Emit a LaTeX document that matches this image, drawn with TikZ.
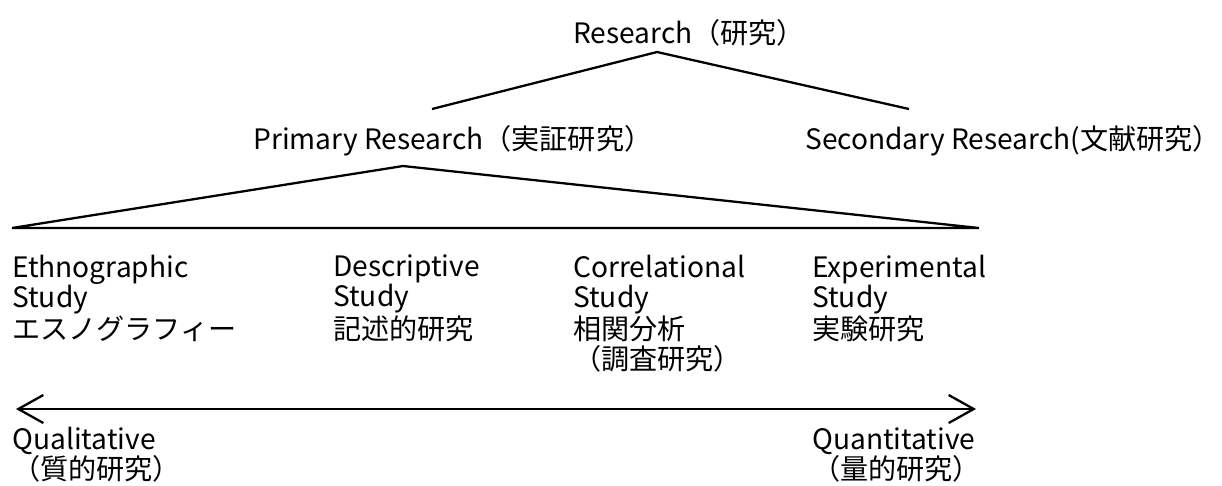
\documentclass[tikz,border=0pt]{standalone}
\usepackage{fontspec}
\setmainfont{Noto Sans CJK JP}
\usepackage{tikz}
\usetikzlibrary{arrows.meta}

\begin{document}
\begin{tikzpicture}[x=0.02cm, y=-0.02cm]
	\useasboundingbox (0,0) rectangle (1222,485);
	% labels, placed at the baseline of their last line
	\begin{scope}[every node/.style={font=\fontsize{16}{17.07}\selectfont, anchor=base west, align=left, inner sep=0pt}]
	    \node (R) at (573,43) {Research（研究）};
	    \node (P) at (253,149) {Primary Research（実証研究）};
	    \node (S) [anchor=base east] at (1221,149) {Secondary Research(文献研究）};
	    \node (E1) at (12,339) {Ethnographic\\Study\\エスノグラフィー};
	    \node (E2) at (333,339) {Descriptive\\Study\\記述的研究};
	    \node (E3) at (573,369) {Correlational\\Study\\相関分析\\（調査研究）};
	    \node (E4) at (812,339) {Experimental\\Study\\実験研究};
	    \node (QL) at (12,479) {Qualitative\\（質的研究）};
	    \node (QN) at (812,479) {Quantitative\\（量的研究）};
	\end{scope}

	\coordinate (Rtip) at (657,52);
	\coordinate (Ptop) at (432,109);
	\coordinate (Stop) at (909,109);
	\coordinate (Ttip) at (403,166);
	\coordinate (TL) at (12,228);
	\coordinate (TR) at (979,228);
	\coordinate (AL) at (16,409);
	\coordinate (AR) at (976,409);

	\begin{scope}[line width=1.3pt, line join=miter]
    	\draw (Ptop) -- (Rtip) -- (Stop);
    	\draw (TL) -- (Ttip) -- (TR) -- cycle;
    	\draw [{Straight Barb[length=0.5cm, width=0.56cm]}-{Straight Barb[length=0.5cm, width=0.56cm]}] (AL) -- (AR);
	\end{scope}
\end{tikzpicture}
\end{document}
